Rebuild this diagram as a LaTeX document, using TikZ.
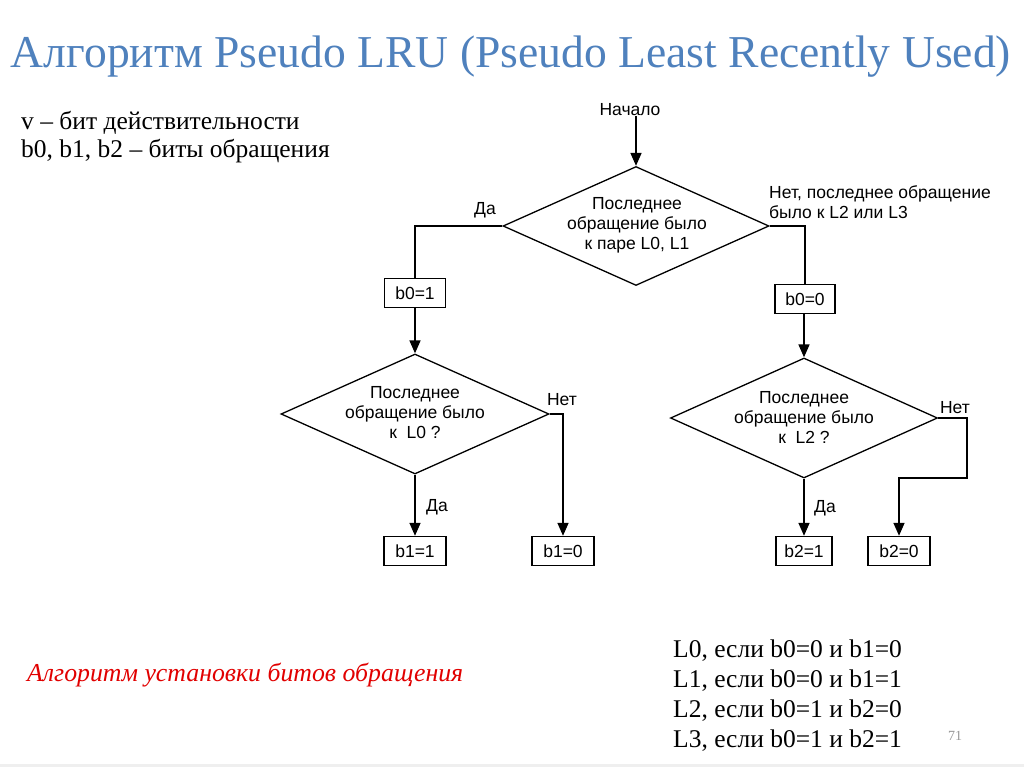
\documentclass[tikz,border=0pt]{standalone}
\usepackage{fontspec}
\setmainfont{Liberation Serif}
\newfontfamily\fcfont{Liberation Sans}
\usetikzlibrary{arrows.meta,shapes.geometric}
\definecolor{titleblue}{RGB}{79,129,189}
\definecolor{redtxt}{RGB}{225,0,0}
\definecolor{pagegray}{RGB}{150,150,150}
\tikzset{
  ln/.style={line width=1.6pt, draw=black},
  arr/.style={ln, -{Triangle[length=13pt,width=11pt]}},
  dia/.style={diamond, draw=black, line width=1.3pt, inner sep=0pt},
  bitbox/.style={rectangle, draw=black, line width=1.4pt, inner sep=0pt,
     minimum height=29pt, font=\fcfont\fontsize{17.5}{20}\selectfont},
  fctext/.style={inner sep=0pt, align=center, font=\fcfont\fontsize{17.5}{20}\selectfont},
  fclabel/.style={inner sep=0pt, font=\fcfont\fontsize{17.5}{20}\selectfont},
  serif/.style={inner sep=0pt, anchor=base west, font=\fontsize{25.5}{28}\selectfont},
}
\begin{document}
\begin{tikzpicture}[x=1pt,y=-1pt]
\useasboundingbox (0,0) rectangle (1024,767);
\fill[pagegray!15] (0,764) rectangle (1024,767);

% title
\node[inner sep=0pt, anchor=base, text=titleblue, font=\fontsize{45.6}{50}\selectfont] (title) at (511,68)
  {Алгоритм Pseudo LRU (Pseudo Least Recently Used)};

% legend top left
\node[serif] (leg1) at (21,130) {v – бит действительности};
\node[serif] (leg2) at (21,158) {b0, b1, b2 – биты обращения};

% flowchart
\node[fclabel] (start) at (630,110) {Начало};

\node[dia, minimum width=266pt, minimum height=119pt] (d1) at (636,226) {};
\node[fctext] (t1) at (637,225) {Последнее\\обращение было\\к паре L0, L1};

\node[bitbox, minimum width=61pt] (b01) at (415,293) {b0=1};
\node[bitbox, minimum width=60pt] (b00) at (805,299) {b0=0};

\node[dia, minimum width=268pt, minimum height=120pt] (d2) at (415,414) {};
\node[fctext] (t2) at (415,413) {Последнее\\обращение было\\к\ \ L0 ?};

\node[dia, minimum width=267pt, minimum height=120pt] (d3) at (804,418) {};
\node[fctext] (t3) at (804,417) {Последнее\\обращение было\\к\ \ L2 ?};

\node[bitbox, minimum width=62pt] (b11) at (415,551) {b1=1};
\node[bitbox, minimum width=62pt] (b10) at (563,551) {b1=0};
\node[bitbox, minimum width=56pt] (b21) at (804,551) {b2=1};
\node[bitbox, minimum width=62pt] (b20) at (899,551) {b2=0};

\coordinate (turn) at (967,478);

% connectors
\draw[arr] (start.south -| d1.north) -- (d1.north);
\draw[ln] (d1.west) -| (b01.north);
\draw[ln] (d1.east) -| (b00.north);
\draw[arr] (b01.south) -- (d2.north);
\draw[arr] (b00.south -| d3.north) -- (d3.north);
\draw[arr] (d2.south) -- (b11.north);
\draw[arr] (d2.east) -| (b10.north);
\draw[arr] (d3.south) -- (b21.north);
\draw[arr] (d3.east) -| (turn) -| (b20.north);

% connector labels
\node[fclabel] (l1) at (485,210) {Да};
\node[fclabel, anchor=west, align=left] (l2) at (769,202) {Нет, последнее обращение\\было к L2 или L3};
\node[fclabel] (l3) at (562,400) {Нет};
\node[fclabel] (l4) at (437,507) {Да};
\node[fclabel] (l5) at (955,408) {Нет};
\node[fclabel] (l6) at (825,508) {Да};

% caption
\node[inner sep=0pt, anchor=base west, text=redtxt, font=\itshape\fontsize{25.8}{28}\selectfont] (cap) at (27,681)
  {Алгоритм установки битов обращения};

% conditions
\node[serif] (c1) at (673,657) {L0, если b0=0 и b1=0};
\node[serif] (c2) at (673,687) {L1, если b0=0 и b1=1};
\node[serif] (c3) at (673,717) {L2, если b0=1 и b2=0};
\node[serif] (c4) at (673,747) {L3, если b0=1 и b2=1};

\node[inner sep=0pt, anchor=base, text=pagegray, font=\fontsize{14}{16}\selectfont] (pg) at (955,740) {71};
\end{tikzpicture}
\end{document}
